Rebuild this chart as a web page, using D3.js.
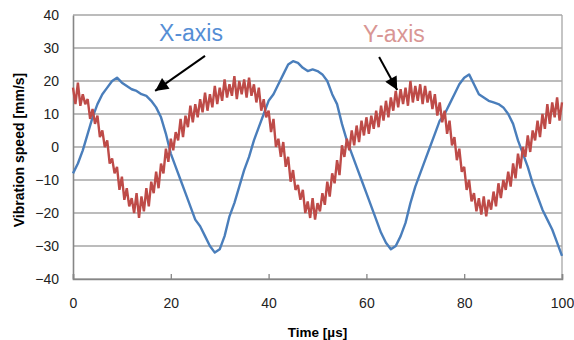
<!DOCTYPE html>
<html>
<head>
<meta charset="utf-8">
<script src="https://cdn.jsdelivr.net/npm/d3@7"></script>
<style>
  body { margin: 0; background: #fff; }
  svg text { font-family: "Liberation Sans", Arial, sans-serif; }
</style>
</head>
<body>
<figure id="chart" style="margin:0"></figure>
<script>
// time axis, 1 µs steps for X, 0.5 µs steps for Y
const xTimes = d3.range(0, 101, 1);
const xAxisSpeed = [
  -8, -5, -1, 4, 9, 13, 16, 18, 20, 21,
  19.5, 18.5, 17.5, 17, 16, 15.5, 14, 12, 9, 4,
  -2, -6, -10, -14, -18, -22, -24, -27, -30, -32,
  -31, -27, -21, -17, -12, -7, -3, 2, 6, 10,
  14, 16, 19, 22, 25, 26, 25.5, 24, 23, 23.5,
  23, 22, 20, 16, 13, 7, 2, -2, -6, -10,
  -14, -18, -22, -26, -29, -31, -30, -27, -23, -17,
  -12, -8, -4, 0, 4, 8, 10, 13, 16, 19,
  21, 22, 19, 16, 15, 14, 13.5, 13, 12, 10,
  7, 2, -2, -6, -11, -15, -19, -22, -25, -29,
  -33
];
const yTimes = d3.range(0, 100.5, 0.5);
const yAxisSpeed = [
  18, 13, 19.5, 12.5, 16, 13, 14.5, 8.5, 11.5, 7,
  9.5, 3, 5, 0, 2, -5, -3.5, -8, -6, -13,
  -9, -16, -12.5, -18, -15.5, -20, -14, -21.5, -15, -19.5,
  -12.5, -18, -10.5, -14, -7.5, -12.5, -5, -8, -0.5, -4.5,
  2.5, -1, 4.5, 2, 8.5, 3, 9.5, 6, 12.5, 7.5,
  13, 9, 14.5, 10.5, 16.5, 11, 16, 12, 18.5, 13,
  18, 14, 20.5, 15, 19, 15.5, 21.5, 14.5, 20, 16,
  20.5, 15, 21, 15.5, 19, 13.5, 18, 11, 14.5, 9,
  11, 4.5, 8.5, 0, 2.5, -3, 1.5, -6, -3, -10.5,
  -7, -13, -11.5, -16, -13, -20, -16.5, -21.5, -15.5, -22,
  -17, -19.5, -14, -17.5, -10.5, -15, -8, -11, -4, -8.5,
  0.5, -3, 2.5, -1, 5, 0.5, 6.5, 1.5, 8, 3.5,
  9, 4, 9.5, 5.5, 11, 6, 12.5, 8, 14, 9,
  15, 11, 17, 12, 17.5, 13, 18, 12.5, 20, 13.5,
  18.5, 14, 19, 13, 18.5, 13.5, 17, 11.5, 16, 9.5,
  13.5, 7.5, 11, 4, 8, 0.5, 3, -4, -0.5, -7.5,
  -6, -13, -10, -16.5, -14, -19.5, -15.5, -20.5, -15, -21,
  -16, -19, -13.5, -18, -11, -15.5, -10, -13, -7.5, -12,
  -5, -9.5, -2, -6.5, 0, -3, 3.5, -1.5, 5, 2,
  8, 3, 10, 5.5, 13, 7, 13.5, 9, 15, 8,
  13.5
];
const xTicks = [0, 20, 40, 60, 80, 100];
const yTicks = [-40, -30, -20, -10, 0, 10, 20, 30, 40];

// annotation labels and arrows in data units
const labels = [
  { text: "X-axis", t: 17.6, v: 32.1, color: "#558ed5" },
  { text: "Y-axis", t: 59.3, v: 31.8, color: "#d99694" }
];
const arrows = [
  { t0: 27, v0: 27.6, t1: 16.8, v1: 17 },
  { t0: 62.6, v0: 27.3, t1: 66.3, v1: 17.3 }
];

const W = 574, H = 340;
const plot = { left: 73, right: 562, top: 15, bottom: 279 };

const svg = d3.select("#chart").append("svg")
  .attr("width", W)
  .attr("height", H);

const x = d3.scaleLinear().domain([0, 100]).range([plot.left, plot.right]);
const y = d3.scaleLinear().domain([-40, 40]).range([plot.bottom, plot.top]);

// gridlines
svg.append("g")
  .selectAll("line")
  .data(yTicks)
  .enter()
  .append("line")
  .attr("x1", plot.left)
  .attr("x2", plot.right)
  .attr("y1", d => y(d))
  .attr("y2", d => y(d))
  .attr("stroke", "#a6a6a6")
  .attr("stroke-width", 1.3);

// right border
svg.append("line")
  .attr("x1", plot.right).attr("x2", plot.right)
  .attr("y1", plot.top).attr("y2", plot.bottom)
  .attr("stroke", "#a6a6a6")
  .attr("stroke-width", 1.3);

// x axis
const xAxis = svg.append("g")
  .attr("transform", `translate(0,${plot.bottom})`)
  .call(d3.axisBottom(x).tickValues(xTicks).tickSize(-5).tickPadding(19));
xAxis.select(".domain").attr("stroke", "#868686").attr("stroke-width", 1.6);
xAxis.selectAll(".tick line").attr("stroke", "#868686").attr("stroke-width", 1.3);
xAxis.selectAll("text")
  .attr("font-size", 14)
  .attr("fill", "#222")
  .style("font-family", "'Liberation Sans', Arial, sans-serif");

// y axis
const yAxis = svg.append("g")
  .attr("transform", `translate(${plot.left},0)`)
  .call(d3.axisLeft(y).tickValues(yTicks).tickSize(0).tickPadding(14));
yAxis.select(".domain").attr("stroke", "#868686").attr("stroke-width", 1.6);
yAxis.selectAll("text")
  .attr("font-size", 14)
  .attr("fill", "#222")
  .style("font-family", "'Liberation Sans', Arial, sans-serif");

// axis titles
svg.append("text")
  .attr("x", (plot.left + plot.right) / 2)
  .attr("y", 337)
  .attr("text-anchor", "middle")
  .attr("font-size", 13.5)
  .attr("font-weight", "bold")
  .text("Time [µs]");

svg.append("text")
  .attr("transform", "translate(24,150) rotate(-90)")
  .attr("text-anchor", "middle")
  .attr("font-size", 14)
  .attr("font-weight", "bold")
  .text("Vibration speed [mm/s]");

// series
const line = d3.line().x(d => x(d[0])).y(d => y(d[1]));

svg.append("path")
  .datum(d3.zip(xTimes, xAxisSpeed))
  .attr("fill", "none")
  .attr("stroke", "#4a7ebb")
  .attr("stroke-width", 2.4)
  .attr("stroke-linejoin", "round")
  .attr("d", line);

svg.append("path")
  .datum(d3.zip(yTimes, yAxisSpeed))
  .attr("fill", "none")
  .attr("stroke", "#be4b48")
  .attr("stroke-width", 2.4)
  .attr("stroke-linejoin", "bevel")
  .attr("d", line);

// annotations
svg.append("defs").append("marker")
  .attr("id", "head")
  .attr("viewBox", "0 0 10 10")
  .attr("refX", 10)
  .attr("refY", 5)
  .attr("markerWidth", 7.5)
  .attr("markerHeight", 6.5)
  .attr("markerUnits", "strokeWidth")
  .attr("orient", "auto")
  .append("path")
  .attr("d", "M0,0 L10,5 L0,10 Z")
  .attr("fill", "#000");

svg.selectAll("line.arrow")
  .data(arrows)
  .enter()
  .append("line")
  .attr("class", "arrow")
  .attr("x1", d => x(d.t0))
  .attr("y1", d => y(d.v0))
  .attr("x2", d => x(d.t1))
  .attr("y2", d => y(d.v1))
  .attr("stroke", "#000")
  .attr("stroke-width", 2)
  .attr("marker-end", "url(#head)");

svg.selectAll("text.label")
  .data(labels)
  .enter()
  .append("text")
  .attr("class", "label")
  .attr("x", d => x(d.t))
  .attr("y", d => y(d.v))
  .attr("font-size", 23)
  .attr("fill", d => d.color)
  .text(d => d.text);
</script>
</body>
</html>
